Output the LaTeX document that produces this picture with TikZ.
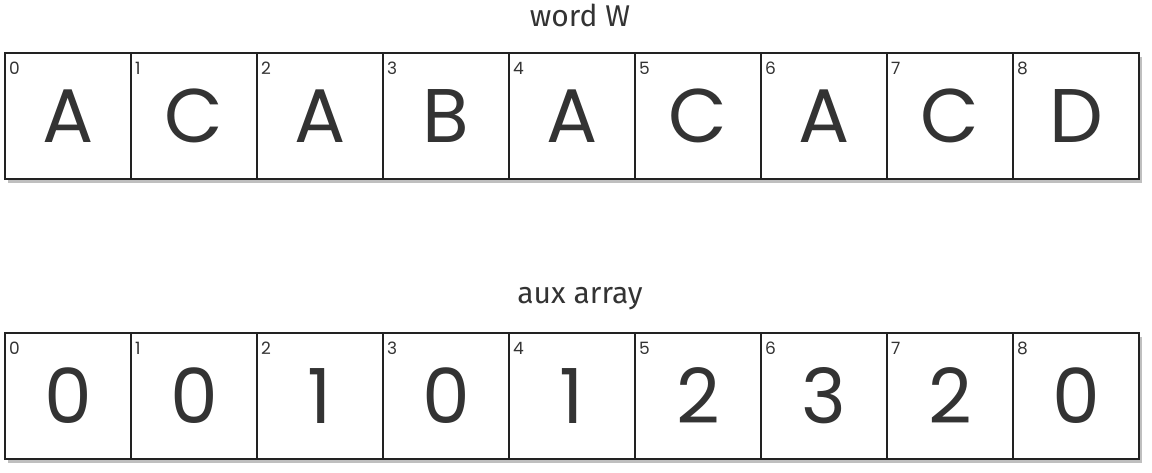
\documentclass[tikz,border=0pt]{standalone}
\usepackage{fontspec}
\setmainfont{Poppins}
\newfontfamily\titlefont{Fira Sans}
\usepackage{tikz}
\usetikzlibrary{positioning,calc,shadows}
\definecolor{ink}{HTML}{333333}
\definecolor{edge}{HTML}{222222}
\tikzset{
	cell/.style={draw=edge, line width=2pt, fill=white, minimum size=126pt, inner sep=0pt, outer sep=0pt, text=ink,
		font=\fontsize{76}{80}\selectfont, drop shadow={shadow xshift=3pt, shadow yshift=-4pt, opacity=.5}},
	idx/.style={anchor=north west, inner sep=0pt, text=ink, font=\fontsize{17}{18}\selectfont},
	title/.style={text=ink, font=\titlefont\fontsize{30}{32}\selectfont}
}

\begin{document}
\begin{tikzpicture}[x=1pt,y=-1pt]
	\useasboundingbox (0,0) rectangle (1152,472);
	% word W
	\node[title] (tw) at (580,15) {word W};
	\foreach \i/\c in {0/A,1/C,2/A,3/B,4/A,5/C,6/A,7/C,8/D} {
		\node[cell] (w\i) at ({68+126*\i},116) {\c};
		\node[idx] (wi\i) at ($(w\i.north west)+(4,9)$) {\i};
	}
	% aux array
	\node[title] (ta) at (580,299) {aux array};
	\foreach \i/\c in {0/0,1/0,2/1,3/0,4/1,5/2,6/3,7/2,8/0} {
		\node[cell] (a\i) at ({68+126*\i},396) {\c};
		\node[idx] (ai\i) at ($(a\i.north west)+(4,9)$) {\i};
	}
\end{tikzpicture}
\end{document}
